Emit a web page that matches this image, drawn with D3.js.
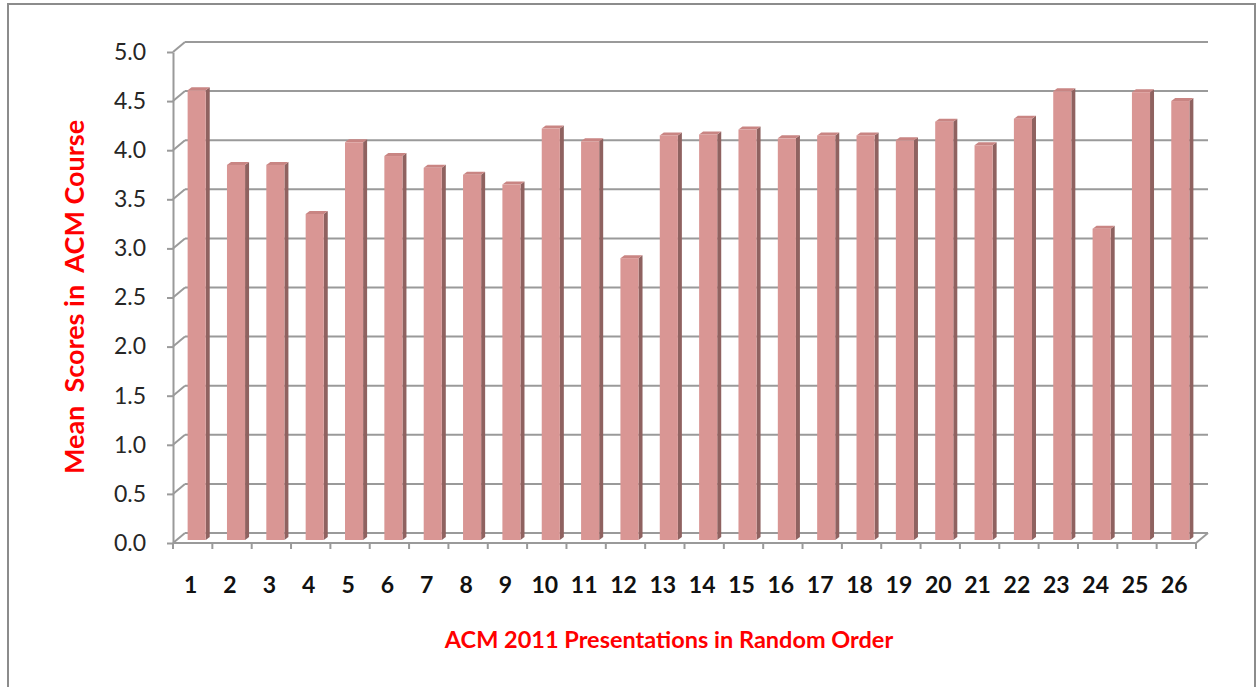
<!DOCTYPE html>
<html>
<head>
<meta charset="utf-8">
<script src="https://cdn.jsdelivr.net/npm/d3@7"></script>
<style>
  body { margin: 0; background: #fff; }
  svg { display: block; }
</style>
</head>
<body>
<svg id="chart"></svg>
<script>
// presentations 1..26 and their mean scores
const presentations = d3.range(1, 27).map(String);
const meanScores = [4.58, 3.82, 3.82, 3.32, 4.05, 3.91, 3.79, 3.72, 3.62, 4.19,
                    4.06, 2.87, 4.12, 4.13, 4.18, 4.09, 4.12, 4.12, 4.07, 4.26,
                    4.02, 4.29, 4.57, 3.17, 4.56, 4.47];
const yTicks = [0, 0.5, 1, 1.5, 2, 2.5, 3, 3.5, 4, 4.5, 5];

const width = 1257, height = 687;
const svg = d3.select("#chart").attr("width", width).attr("height", height);

// depth offsets of the fake 3d box
const back = {dx: 12, dy: -10};
const mid = {dx: 4, dy: -3};

const x = d3.scaleBand().domain(presentations).range([173, 1196]);
const y = d3.scaleLinear().domain([0, 5]).range([543, 52]);
const step = x.step();

// outer frame
svg.append("rect")
    .attr("x", 8).attr("y", 4)
    .attr("width", 1247).attr("height", 700)
    .attr("fill", "none").attr("stroke", "#8c8c8c").attr("stroke-width", 2);

const gridColor = "#9a9a9a";

// back wall gridlines + diagonal links to front axis
const grid = svg.append("g");
grid.selectAll("line.back")
    .data(yTicks).enter()
    .append("line")
    .attr("class", "back")
    .attr("x1", x.range()[0] + back.dx)
    .attr("x2", x.range()[1] + back.dx)
    .attr("y1", d => y(d) + back.dy)
    .attr("y2", d => y(d) + back.dy)
    .attr("stroke", gridColor).attr("stroke-width", 2);
grid.selectAll("line.diag")
    .data(yTicks).enter()
    .append("line")
    .attr("class", "diag")
    .attr("x1", x.range()[0])
    .attr("x2", x.range()[0] + back.dx)
    .attr("y1", d => y(d))
    .attr("y2", d => y(d) + back.dy)
    .attr("stroke", gridColor).attr("stroke-width", 2);

// floor front edge and right diagonal
grid.append("line")
    .attr("x1", x.range()[0]).attr("x2", x.range()[1])
    .attr("y1", y(0)).attr("y2", y(0))
    .attr("stroke", gridColor).attr("stroke-width", 2);
grid.append("line")
    .attr("x1", x.range()[1]).attr("x2", x.range()[1] + back.dx)
    .attr("y1", y(0)).attr("y2", y(0) + back.dy)
    .attr("stroke", gridColor).attr("stroke-width", 2);

// bars (side, top, front)
const barW = step * 0.46;
const sideW = 4, topH = 3;
const barX = i => x(presentations[i]) + step * 0.27 + mid.dx;
const bars = svg.append("g").selectAll("g")
    .data(meanScores).enter()
    .append("g");

bars.append("polygon")
    .attr("points", (d, i) => {
        const x0 = barX(i) + barW;
        const yt = y(d) + mid.dy, yb = y(0) + mid.dy;
        return [[x0, yt], [x0 + sideW, yt - topH], [x0 + sideW, yb - topH], [x0, yb]].join(" ");
    })
    .attr("fill", "#8f6260");

bars.append("polygon")
    .attr("points", (d, i) => {
        const x0 = barX(i);
        const yt = y(d) + mid.dy;
        return [[x0, yt], [x0 + sideW, yt - topH], [x0 + barW + sideW, yt - topH], [x0 + barW, yt]].join(" ");
    })
    .attr("fill", "#c98583");

bars.append("rect")
    .attr("x", (d, i) => barX(i))
    .attr("y", d => y(d) + mid.dy)
    .attr("width", barW)
    .attr("height", d => y(0) - y(d))
    .attr("fill", "#d99694");

// y axis
const yAxis = svg.append("g")
    .attr("transform", `translate(${x.range()[0]},0)`)
    .call(d3.axisLeft(y).tickValues(yTicks).tickFormat(d3.format(".1f"))
        .tickSizeInner(6).tickSizeOuter(0).tickPadding(21));
yAxis.select(".domain").attr("stroke", gridColor).attr("stroke-width", 2);
yAxis.selectAll(".tick line").attr("stroke", gridColor).attr("stroke-width", 2);
yAxis.selectAll(".tick text")
    .attr("font-family", "Lato, sans-serif")
    .attr("font-size", 23)
    .attr("fill", "#262626");

// x axis: labels centred, ticks on category boundaries
const xAxis = svg.append("g")
    .attr("transform", `translate(0,${y(0)})`)
    .call(d3.axisBottom(x).tickSize(0).tickPadding(34));
xAxis.select(".domain").remove();
xAxis.selectAll(".tick text")
    .attr("font-family", "Lato, sans-serif")
    .attr("font-weight", "bold")
    .attr("font-size", 23)
    .attr("fill", "#111")
    .attr("dx", -2);

svg.append("g").selectAll("line")
    .data(presentations.concat(["end"])).enter()
    .append("line")
    .attr("x1", d => d === "end" ? x.range()[1] : x(d))
    .attr("x2", d => d === "end" ? x.range()[1] : x(d))
    .attr("y1", y(0)).attr("y2", y(0) + 6)
    .attr("stroke", gridColor).attr("stroke-width", 2);

// titles
svg.append("text")
    .attr("x", 669).attr("y", 648)
    .attr("text-anchor", "middle")
    .attr("font-family", "Lato, sans-serif")
    .attr("font-weight", "bold")
    .attr("font-size", 23.5)
    .attr("fill", "#ff0000")
    .text("ACM 2011 Presentations in Random Order");

svg.append("text")
    .attr("transform", "translate(84,297) rotate(-90)")
    .attr("text-anchor", "middle")
    .attr("font-family", "Lato, sans-serif")
    .attr("font-weight", "bold")
    .attr("font-size", 27)
    .attr("fill", "#ff0000")
    .attr("xml:space", "preserve")
    .style("white-space", "pre")
    .text("Mean  Scores in  ACM Course");
</script>
</body>
</html>
